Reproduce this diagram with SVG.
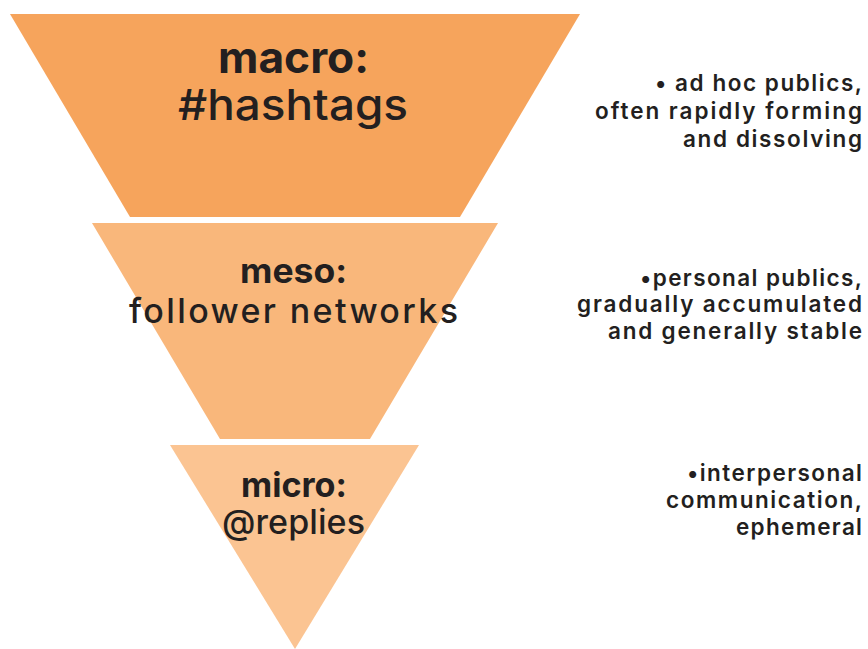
<svg xmlns="http://www.w3.org/2000/svg" width="868" height="649" viewBox="0 0 868 649">
  <style>
    text { font-family: Inter, "Noto Sans", "DejaVu Sans", sans-serif; fill: #231f20; }
    .head { font-size: 43px; }
    .sub { font-size: 34px; }
    .b { font-weight: 700; }
    .m { font-weight: 500; }
    .note { font-size: 22.5px; font-weight: 600; }
    .t1 { fill: #f6a45c; }
    .t2 { fill: #f9b77b; }
    .t3 { fill: #fbc492; }
  </style>
  <rect width="868" height="649" fill="#ffffff"/>

  <!-- top tier: hashtag publics -->
  <g id="macro">
    <polygon class="t1" points="10,14 580,14 460,217 130,217"/>
    <text class="head b" x="218" y="73" textLength="151" lengthAdjust="spacingAndGlyphs">macro:</text>
    <text class="head m" x="178" y="120" textLength="230" lengthAdjust="spacingAndGlyphs">#hashtags</text>
  </g>

  <!-- middle tier: follower networks -->
  <g id="meso">
    <polygon class="t2" points="92,223 498,223 370,439 220,439"/>
    <text class="sub b" x="240" y="283" textLength="107" lengthAdjust="spacingAndGlyphs">meso:</text>
    <text class="sub m" x="129" y="323" textLength="329" lengthAdjust="spacing">follower networks</text>
  </g>

  <!-- bottom tier: replies -->
  <g id="micro">
    <polygon class="t3" points="170,445 419,445 295,649"/>
    <text class="sub b" x="241" y="497" textLength="106" lengthAdjust="spacingAndGlyphs">micro:</text>
    <text class="sub m" x="222" y="534" textLength="143" lengthAdjust="spacing">@replies</text>
  </g>

  <g id="macro-note">
    <text class="note" x="655" y="91" textLength="207" lengthAdjust="spacing">• ad hoc publics,</text>
    <text class="note" x="595" y="119" textLength="267" lengthAdjust="spacing">often rapidly forming</text>
    <text class="note" x="683" y="147" textLength="179" lengthAdjust="spacing">and dissolving</text>
  </g>

  <g id="meso-note">
    <text class="note" x="640" y="286" textLength="222" lengthAdjust="spacing">•personal publics,</text>
    <text class="note" x="577" y="312" textLength="285" lengthAdjust="spacing">gradually accumulated</text>
    <text class="note" x="608" y="339" textLength="254" lengthAdjust="spacing">and generally stable</text>
  </g>

  <g id="micro-note">
    <text class="note" x="687" y="481" textLength="175" lengthAdjust="spacing">•interpersonal</text>
    <text class="note" x="666" y="508" textLength="196" lengthAdjust="spacing">communication,</text>
    <text class="note" x="736" y="535" textLength="126" lengthAdjust="spacing">ephemeral</text>
  </g>
</svg>
